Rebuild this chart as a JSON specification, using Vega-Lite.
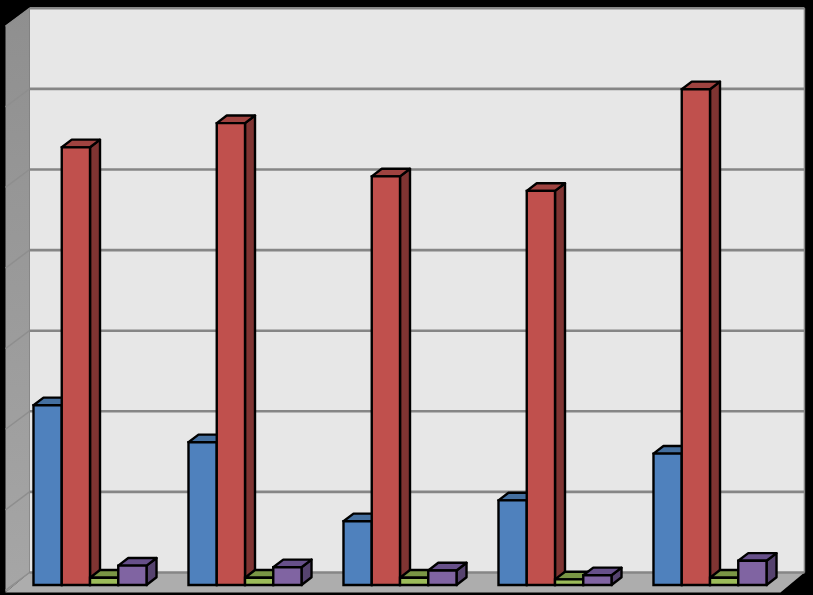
{
"$schema":"https://vega.github.io/schema/vega-lite/v6.json",
"width":813,"height":595,"padding":0,"autosize":{"type":"none"},"background":"#000000",
"config":{"view":{"stroke":null}},
"datasets":{
"bars":[
{"group":1,"slot":0,"series":"A","value":2.23},{"group":1,"slot":1,"series":"B","value":5.43},{"group":1,"slot":2,"series":"C","value":0.09},{"group":1,"slot":3,"series":"D","value":0.24},
{"group":2,"slot":0,"series":"A","value":1.77},{"group":2,"slot":1,"series":"B","value":5.73},{"group":2,"slot":2,"series":"C","value":0.09},{"group":2,"slot":3,"series":"D","value":0.22},
{"group":3,"slot":0,"series":"A","value":0.79},{"group":3,"slot":1,"series":"B","value":5.07},{"group":3,"slot":2,"series":"C","value":0.09},{"group":3,"slot":3,"series":"D","value":0.18},
{"group":4,"slot":0,"series":"A","value":1.05},{"group":4,"slot":1,"series":"B","value":4.89},{"group":4,"slot":2,"series":"C","value":0.07},{"group":4,"slot":3,"series":"D","value":0.12},
{"group":5,"slot":0,"series":"A","value":1.63},{"group":5,"slot":1,"series":"B","value":6.15},{"group":5,"slot":2,"series":"C","value":0.09},{"group":5,"slot":3,"series":"D","value":0.30}
],
"levels":[{"level":0},{"level":1},{"level":2},{"level":3},{"level":4},{"level":5},{"level":6},{"level":7}],
"leftWall":[{"u":-0.1806,"top":6.94,"bottom":-0.093},{"u":-0.0258,"top":7.155,"bottom":0.155}],
"floor":[{"v":0.155,"a":-0.0258,"b":4.974},{"v":-0.093,"a":-0.1806,"b":4.819}],
"backWall":[{"a":-0.0258,"b":4.974,"bottom":0.155,"top":7.155}]
},
"layer":[
{"data":{"name":"backWall"},"mark":{"type":"rect","fill":"#e7e7e7"},
 "encoding":{"x":{"field":"a","type":"quantitative","axis":null,"scale":{"domain":[-0.2161,5.0291],"nice":false,"zero":false}},"x2":{"field":"b"},
 "y":{"field":"bottom","type":"quantitative","axis":null,"scale":{"domain":[-0.1243,7.2579],"nice":false,"zero":false}},"y2":{"field":"top"}}},
{"data":{"name":"leftWall"},"mark":{"type":"area","fill":{"x1":0,"y1":0,"x2":0,"y2":1,"gradient":"linear","stops":[{"offset":0,"color":"#8f8f8f"},{"offset":1,"color":"#a6a6a6"}]}},
 "encoding":{"x":{"field":"u","type":"quantitative"},"y":{"field":"top","type":"quantitative"},"y2":{"field":"bottom"}}},
{"data":{"name":"floor"},"mark":{"type":"area","orient":"horizontal","fill":"#adadad"},
 "encoding":{"y":{"field":"v","type":"quantitative"},"x":{"field":"a","type":"quantitative"},"x2":{"field":"b"}}},
{"data":{"name":"levels"},"transform":[{"calculate":"datum.level+0.155","as":"v"},{"calculate":"datum.level+0.155-0.223","as":"w"},{"calculate":"-0.0258","as":"a"},{"calculate":"-0.1806","as":"c"}],
 "mark":{"type":"rule","stroke":"#8e8e8e","strokeWidth":1.5},
 "encoding":{"x":{"field":"a","type":"quantitative"},"x2":{"field":"c"},"y":{"field":"v","type":"quantitative"},"y2":{"field":"w"}}},
{"data":{"name":"levels"},"transform":[{"calculate":"datum.level+0.155","as":"v"},{"calculate":"-0.0258","as":"a"},{"calculate":"4.974","as":"b"}],
 "mark":{"type":"rule","stroke":"#868686","strokeWidth":2.6},
 "encoding":{"x":{"field":"a","type":"quantitative"},"x2":{"field":"b"},"y":{"field":"v","type":"quantitative"}}},
{"data":{"name":"backWall"},"mark":{"type":"rule","stroke":"#868686","strokeWidth":1.5},
 "encoding":{"x":{"field":"b","type":"quantitative"},"y":{"field":"bottom","type":"quantitative"},"y2":{"field":"top"}}},
{"data":{"name":"bars"},
 "transform":[{"calculate":"datum.group-1+datum.slot*0.1823","as":"x0"},{"calculate":"datum.group+'-'+datum.series","as":"id"},{"calculate":"0","as":"v0"},{"calculate":"1","as":"v1"},{"fold":["v0","v1"],"as":["vk","vv"]},
  {"calculate":"datum.x0+0.1823+datum.vv*0.0645","as":"sx"},{"calculate":"datum.value+datum.vv*0.095","as":"sy"},{"calculate":"datum.vv*0.095","as":"sy2"}],
 "mark":{"type":"area","stroke":"#000000","strokeWidth":2.4,"strokeJoin":"round"},
 "encoding":{"x":{"field":"sx","type":"quantitative"},"y":{"field":"sy","type":"quantitative"},"y2":{"field":"sy2"},"detail":{"field":"id"},
  "fill":{"field":"series","type":"nominal","legend":null,"scale":{"domain":["A","B","C","D"],"range":["#3d648f","#7f3432","#63783a","#56436f"]}}}},
{"data":{"name":"bars"},
 "transform":[{"calculate":"datum.group-1+datum.slot*0.1823","as":"x0"},{"calculate":"datum.group+'-'+datum.series","as":"id"},{"calculate":"0","as":"v0"},{"calculate":"1","as":"v1"},{"fold":["v0","v1"],"as":["vk","vv"]},
  {"calculate":"datum.x0+datum.vv*0.0645","as":"tx"},{"calculate":"datum.x0+0.1823+datum.vv*0.0645","as":"tx2"},{"calculate":"datum.value+datum.vv*0.095","as":"ty"}],
 "mark":{"type":"area","orient":"horizontal","stroke":"#000000","strokeWidth":2.4,"strokeJoin":"round"},
 "encoding":{"y":{"field":"ty","type":"quantitative"},"x":{"field":"tx","type":"quantitative"},"x2":{"field":"tx2"},"detail":{"field":"id"},
  "fill":{"field":"series","type":"nominal","legend":null,"scale":{"domain":["A","B","C","D"],"range":["#446f9f","#9f4340","#7a9645","#67508a"]}}}},
{"data":{"name":"bars"},
 "transform":[{"calculate":"datum.group-1+datum.slot*0.1823","as":"x0"},{"calculate":"datum.x0+0.1823","as":"x1"},{"calculate":"0","as":"base"}],
 "mark":{"type":"rect","stroke":"#000000","strokeWidth":2.4},
 "encoding":{"x":{"field":"x0","type":"quantitative"},"x2":{"field":"x1"},"y":{"field":"value","type":"quantitative"},"y2":{"field":"base"},
  "fill":{"field":"series","type":"nominal","legend":null,"scale":{"domain":["A","B","C","D"],"range":["#4f81bd","#c0504d","#9bbb59","#8064a2"]}}}}
],
"resolve":{"scale":{"fill":"independent"}}
}
